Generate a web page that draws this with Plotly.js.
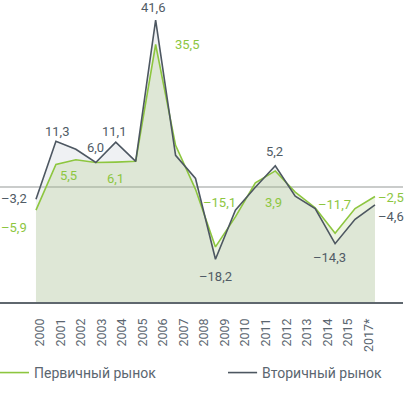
<!DOCTYPE html>
<html>
<head>
<meta charset="utf-8">
<script src="https://cdn.plot.ly/plotly-3.0.1.min.js"></script>
<style>html,body{margin:0;padding:0;background:#fff;}#chart{width:412px;height:397px;}</style>
</head>
<body>
<div id="chart"></div>
<script>
// ---- data ----
const YEARS = [2000, 2001, 2002, 2003, 2004, 2005, 2006, 2007, 2008, 2009, 2010, 2011, 2012, 2013, 2014, 2015, 2016, 2017];
const PRIMARY = [-5.9, 5.5, 6.7, 6.0, 6.1, 6.3, 35.5, 10.3, -0.7, -15.1, -7.6, 0.9, 3.9, -1.4, -5.3, -11.7, -5.5, -2.5];
const SECONDARY = [-3.2, 11.3, 9.3, 6.0, 11.1, 6.3, 41.6, 7.8, 2.0, -18.2, -5.9, -0.2, 5.2, -2.4, -5.5, -14.3, -8.2, -4.6];
const TICK_LABELS = ['2000', '2001', '2002', '2003', '2004', '2005', '2006', '2007', '2008', '2009', '2010', '2011', '2012', '2013', '2014', '2015', '2017*'];
const SERIES_NAMES = ['Первичный рынок', 'Вторичный рынок'];

// ---- style ----
const GREEN = '#8dc63f';
const DARK = '#4d5761';
const TEXT_DARK = '#505b65';
const FONT = 'Roboto, "Open Sans", sans-serif';
const Y_RANGE = [-28.875, 46.625];
const X_RANGE = [YEARS[0] - 1.805, YEARS[0] + 18.405];

const fmt = v => (v < 0 ? '–' : '') + Math.abs(v).toFixed(1).replace('.', ',');
const baseline = YEARS.map(() => Y_RANGE[0]);

const traces = [
  {x: YEARS, y: baseline, mode: 'lines', line: {width: 0}, showlegend: false, hoverinfo: 'skip'},
  {x: YEARS, y: SECONDARY, mode: 'lines', line: {width: 0}, fill: 'tonexty', fillcolor: 'rgba(190,198,206,0.25)', showlegend: false, hoverinfo: 'skip'},
  {x: YEARS, y: baseline, mode: 'lines', line: {width: 0}, showlegend: false, hoverinfo: 'skip'},
  {x: YEARS, y: PRIMARY, mode: 'lines', line: {width: 0}, fill: 'tonexty', fillcolor: 'rgba(120,170,40,0.14)', showlegend: false, hoverinfo: 'skip'},
  {x: YEARS, y: PRIMARY, mode: 'lines', name: SERIES_NAMES[0], legend: 'legend', line: {color: GREEN, width: 1.6}},
  {x: YEARS, y: SECONDARY, mode: 'lines', name: SERIES_NAMES[1], legend: 'legend2', line: {color: DARK, width: 1.6}}
];

// label placement: [series, index, dx, dy, anchor]
const LABEL_SPECS = [
  ['s', 6, -3, -13, 'center'],
  ['p', 6, 31, 0, 'center'],
  ['s', 1, 1, -10, 'center'],
  ['s', 3, 0, -15, 'center'],
  ['s', 4, -2, -11, 'center'],
  ['p', 1, 13, 11, 'center'],
  ['p', 4, 0, 16, 'center'],
  ['s', 0, -36, -1, 'left'],
  ['p', 0, -36, 17, 'left'],
  ['s', 9, 0, 17, 'center'],
  ['p', 9, 4, -44, 'center'],
  ['p', 12, -2, 32, 'center'],
  ['s', 12, -1, -14, 'center'],
  ['p', 15, -1, -29, 'center'],
  ['s', 15, -6, 14, 'center'],
  ['p', 17, 2, 1, 'left'],
  ['s', 17, 2, 12, 'left']
];

const annotations = LABEL_SPECS.map(([ser, i, dx, dy, anchor]) => {
  const vals = ser === 'p' ? PRIMARY : SECONDARY;
  return {
    x: YEARS[i], y: vals[i], xref: 'x', yref: 'y',
    text: fmt(vals[i]), showarrow: false,
    xanchor: anchor, yanchor: 'middle',
    xshift: dx, yshift: -dy, borderpad: 0,
    font: {family: FONT, size: 13, color: ser === 'p' ? GREEN : TEXT_DARK}
  };
});

const legendBase = {
  orientation: 'h', y: -0.235, xanchor: 'left', yanchor: 'middle',
  indentation: -6,
  font: {family: FONT, size: 14, color: '#5b6670'},
  bgcolor: 'rgba(0,0,0,0)'
};

const layout = {
  width: 412, height: 397,
  margin: {l: 0, r: 9, t: 0, b: 95, pad: 0, autoexpand: false},
  paper_bgcolor: '#fff', plot_bgcolor: 'rgba(0,0,0,0)',
  font: {family: FONT, color: TEXT_DARK},
  showlegend: true,
  legend: Object.assign({}, legendBase, {x: 0}),
  legend2: Object.assign({}, legendBase, {x: 0.566}),
  xaxis: {
    range: X_RANGE, tickmode: 'array',
    tickvals: TICK_LABELS.map((_, i) => YEARS[0] + 0.2 + i * 1.03),
    ticktext: TICK_LABELS, tickangle: -90,
    tickfont: {family: FONT, size: 12.5, color: '#5b6670'},
    ticks: '', ticklabelstandoff: 10,
    showgrid: false, zeroline: false,
    showline: true, linecolor: '#5f676e', linewidth: 1.5
  },
  yaxis: {
    range: Y_RANGE, showticklabels: false, ticks: '', showgrid: false, showline: false,
    zeroline: true, zerolinecolor: '#cacccb', zerolinewidth: 2
  },
  annotations: annotations
};

Plotly.newPlot('chart', traces, layout, {displayModeBar: false, staticPlot: true});
</script>
</body>
</html>
